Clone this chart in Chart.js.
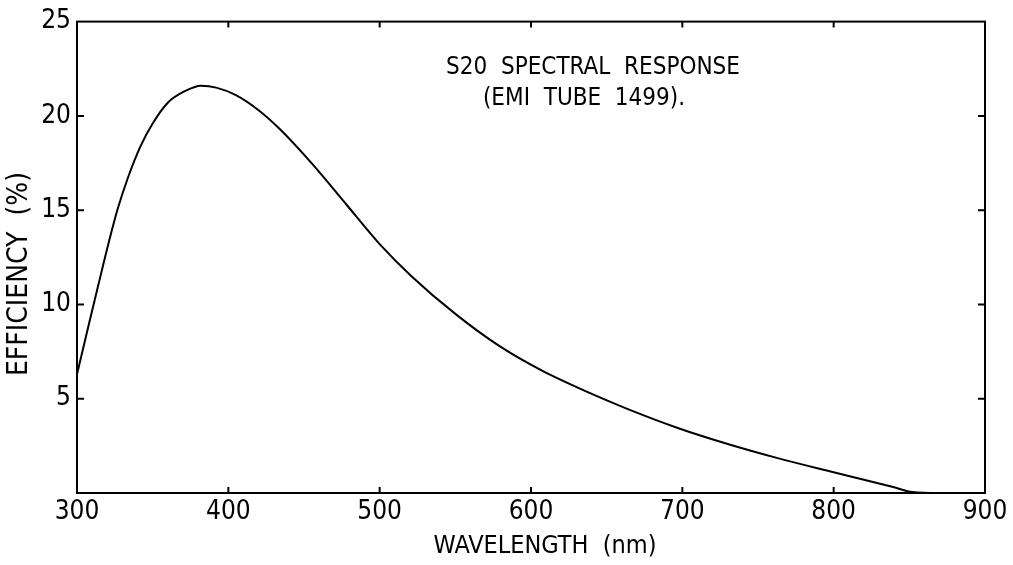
<!DOCTYPE html>
<html lang="en">
<head>
    <meta charset="UTF-8">
    <title>S20 Spectral Response</title>
    <script src="https://cdn.jsdelivr.net/npm/chart.js"></script>
    <style>
        html, body { margin: 0; padding: 0; background: #fff; }
        .chart-container { width: 1013px; height: 565px; position: relative; }
    </style>
</head>
<body>
    <div class="chart-container">
        <canvas id="responseChart"></canvas>
    </div>

    <script>
        // values
        const wavelength = [300, 308, 314, 321, 327, 334, 342, 350, 360, 371, 382, 392, 405, 420, 434, 456, 478, 500, 521, 550, 579, 607, 636, 664, 697, 730, 763, 800, 820, 840, 852, 870, 900];
        const efficiency = [6.3, 9.0, 11.0, 13.3, 15.1, 16.8, 18.4, 19.6, 20.7, 21.3, 21.6, 21.5, 21.1, 20.3, 19.3, 17.4, 15.3, 13.2, 11.5, 9.5, 7.8, 6.5, 5.4, 4.45, 3.45, 2.6, 1.85, 1.1, 0.7, 0.3, 0.05, 0, 0];
        const xTicks = [300, 400, 500, 600, 700, 800, 900];
        const yTicks = [5, 10, 15, 20, 25];
        const titleLines = ['S20  SPECTRAL  RESPONSE', '(EMI  TUBE  1499).'];
        const xTitle = 'WAVELENGTH  (nm)';
        const yTitle = 'EFFICIENCY  (%)';

        const FONT = "'Liberation Sans Narrow', 'DejaVu Sans Condensed', 'Liberation Sans', sans-serif";

        // frame, inward tick marks and all free text
        const framePlugin = {
            id: 'frame',
            afterDraw(chart) {
                const ctx = chart.ctx;
                const a = chart.chartArea;
                const x = chart.scales.x, y = chart.scales.y;
                ctx.save();
                ctx.strokeStyle = '#000';
                ctx.lineWidth = 2;
                ctx.strokeRect(a.left, a.top, a.right - a.left, a.bottom - a.top);
                ctx.beginPath();
                xTicks.slice(1, -1).forEach(v => {
                    const px = x.getPixelForValue(v);
                    ctx.moveTo(px, a.bottom); ctx.lineTo(px, a.bottom - 6);
                    ctx.moveTo(px, a.top); ctx.lineTo(px, a.top + 6);
                });
                yTicks.slice(0, -1).forEach(v => {
                    const py = y.getPixelForValue(v);
                    ctx.moveTo(a.left, py); ctx.lineTo(a.left + 7, py);
                    ctx.moveTo(a.right, py); ctx.lineTo(a.right - 7, py);
                });
                ctx.stroke();

                ctx.fillStyle = '#000';
                ctx.textAlign = 'center';
                ctx.textBaseline = 'middle';
                ctx.font = '24px ' + FONT;
                ctx.fillText(titleLines[0], 593, 68);
                ctx.fillText(titleLines[1], 584, 99);

                ctx.font = '25px ' + FONT;
                ctx.fillText(xTitle, 545, 546);

                ctx.translate(20, 274);
                ctx.rotate(-Math.PI / 2);
                ctx.font = '28px ' + FONT;
                ctx.fillText(yTitle, 0, 0);
                ctx.restore();
            }
        };

        new Chart(document.getElementById('responseChart'), {
            type: 'line',
            data: {
                datasets: [{
                    label: 'Efficiency',
                    data: wavelength.map((w, i) => ({ x: w, y: efficiency[i] })),
                    borderColor: '#000',
                    borderWidth: 2,
                    pointRadius: 0,
                    cubicInterpolationMode: 'monotone',
                    fill: false
                }]
            },
            options: {
                responsive: true,
                maintainAspectRatio: false,
                animation: false,
                events: [],
                layout: { padding: { top: 18, right: 28, left: 0, bottom: 0 } },
                plugins: {
                    legend: { display: false },
                    tooltip: { enabled: false }
                },
                scales: {
                    x: {
                        type: 'linear',
                        min: 300,
                        max: 900,
                        afterFit(scale) { scale.height = 72; },
                        afterBuildTicks(scale) { scale.ticks = xTicks.map(v => ({ value: v })); },
                        grid: { display: false, drawTicks: false },
                        border: { display: false },
                        ticks: {
                            color: '#000',
                            padding: 4,
                            maxRotation: 0,
                            font: { family: FONT, size: 26 }
                        }
                    },
                    y: {
                        min: 0,
                        max: 25,
                        afterFit(scale) { scale.width = 77; },
                        afterBuildTicks(scale) { scale.ticks = yTicks.map(v => ({ value: v })); },
                        grid: { display: false, drawTicks: false },
                        border: { display: false },
                        ticks: {
                            color: '#000',
                            padding: 6,
                            font: { family: FONT, size: 26 }
                        }
                    }
                }
            },
            plugins: [framePlugin]
        });
    </script>
</body>
</html>
